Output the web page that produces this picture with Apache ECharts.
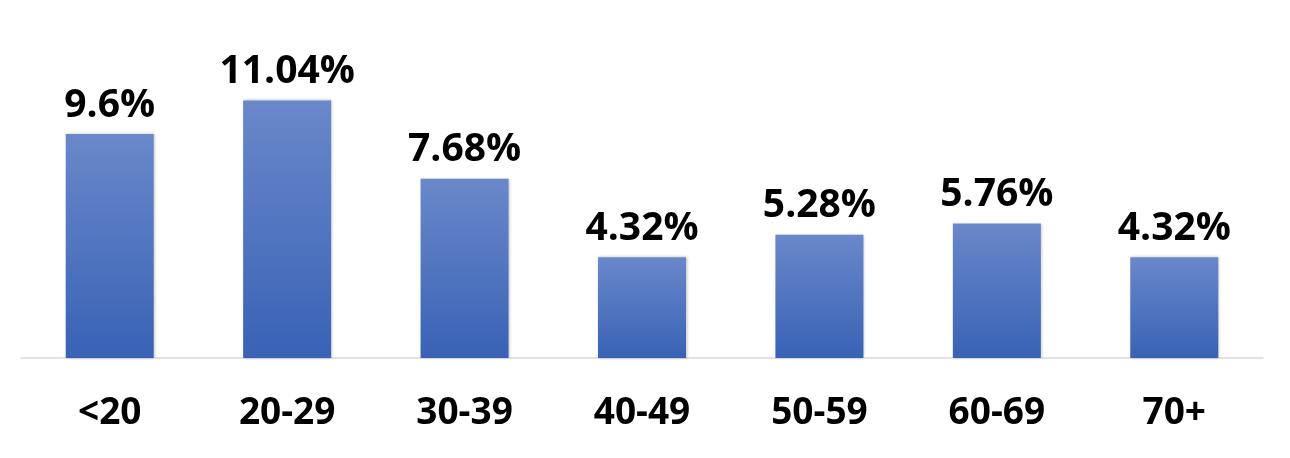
<!DOCTYPE html>
<html>
<head>
<meta charset="utf-8">
<script src="https://cdn.jsdelivr.net/npm/echarts@6/dist/echarts.min.js"></script>
<style>
  html, body { margin: 0; padding: 0; background: #fff; }
  #chart { width: 1290px; height: 458px; }
</style>
</head>
<body>
<div id="chart"></div>
<script>
// age groups and share of each
const categories = ['<20', '20-29', '30-39', '40-49', '50-59', '60-69', '70+']
const values = [9.6, 11.04, 7.68, 4.32, 5.28, 5.76, 4.32]

const chart = echarts.init(document.getElementById('chart'))
const font = '"Open Sans", "Liberation Sans", sans-serif'

chart.setOption({
  animation: false,
  grid: { left: 21, right: 27, top: 78, bottom: 100 },
  xAxis: {
    type: 'category',
    data: categories,
    axisLine: { lineStyle: { color: '#d9d9d9', width: 1.5 } },
    axisTick: { show: false },
    axisLabel: {
      margin: 37,
      color: '#000',
      fontFamily: font,
      fontWeight: 'bold',
      fontSize: 37
    }
  },
  yAxis: {
    type: 'value',
    min: 0,
    max: 12,
    show: false,
    splitLine: { show: false }
  },
  series: [{
    type: 'bar',
    data: values,
    barWidth: 88,
    itemStyle: {
      color: new echarts.graphic.LinearGradient(0, 0, 0, 1, [
        { offset: 0, color: '#6a88ca' },
        { offset: 1, color: '#3962b5' }
      ]),
      shadowColor: 'rgba(0,0,0,0.25)',
      shadowBlur: 3,
      shadowOffsetX: 1,
      shadowOffsetY: 0
    },
    label: {
      show: true,
      position: 'top',
      distance: 9,
      color: '#000',
      fontFamily: font,
      fontWeight: 'bold',
      fontSize: 39,
      formatter: p => p.value + '%'
    }
  }]
})
</script>
</body>
</html>
